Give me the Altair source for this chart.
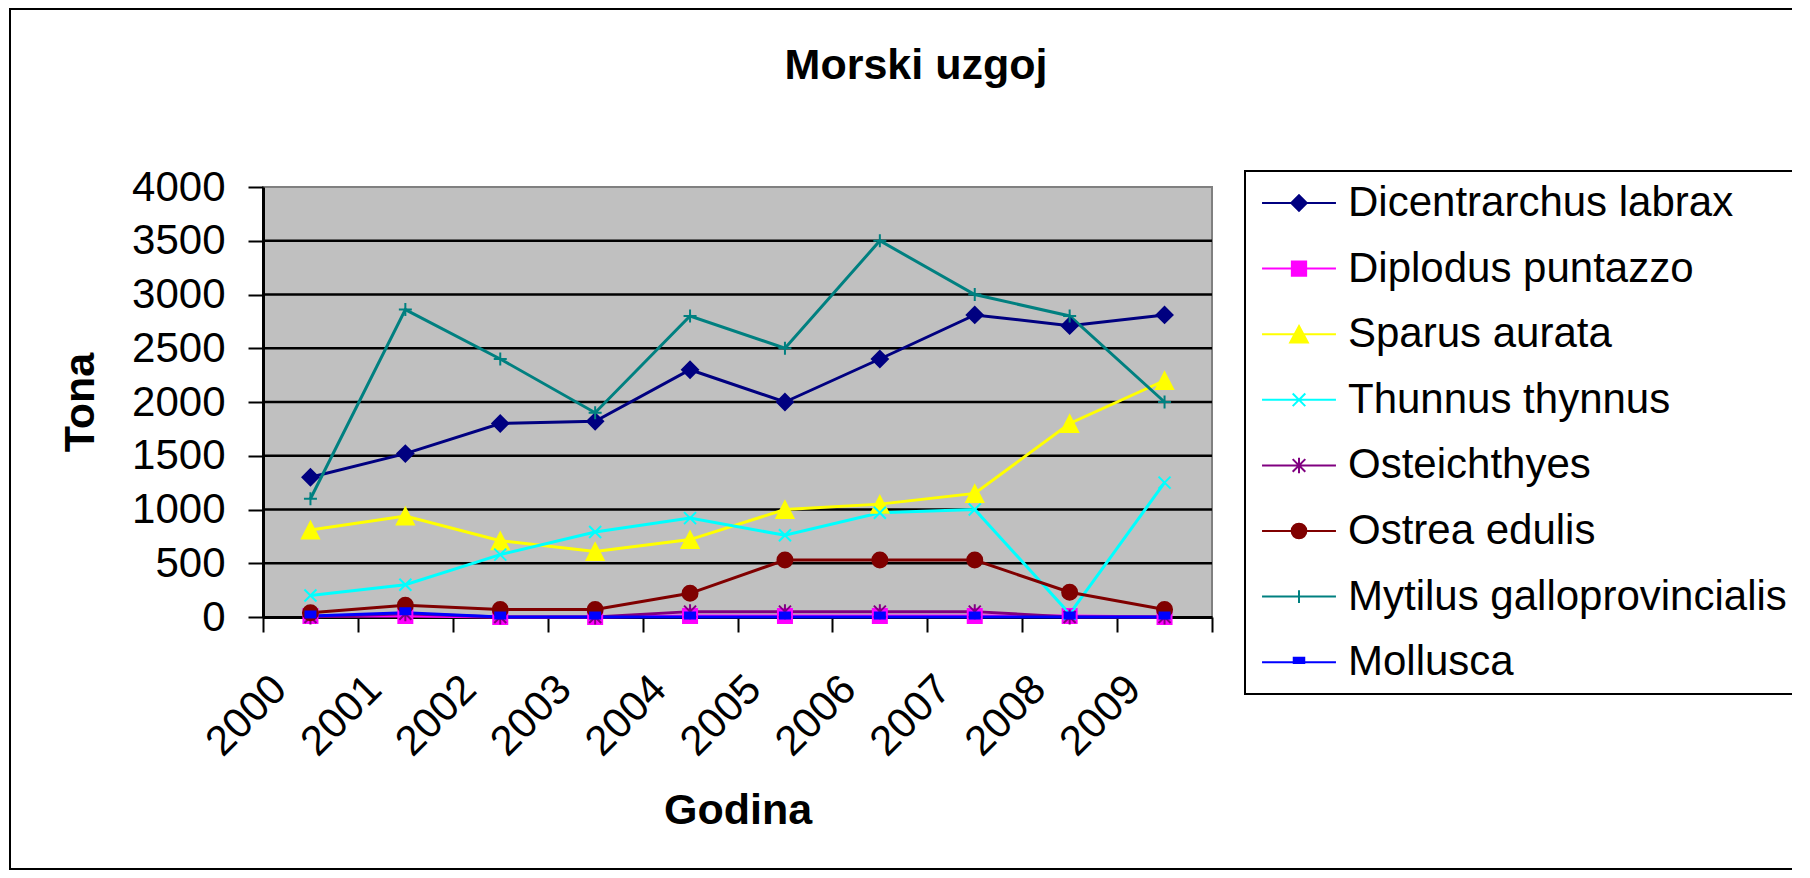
import altair as alt
import pandas as pd

# ---------------- data ----------------
years = [2000, 2001, 2002, 2003, 2004, 2005, 2006, 2007, 2008, 2009]
series_names = [
    "Dicentrarchus labrax",
    "Diplodus puntazzo",
    "Sparus aurata",
    "Thunnus thynnus",
    "Osteichthyes",
    "Ostrea edulis",
    "Mytilus galloprovincialis",
    "Mollusca",
]
dicentrarchus = [1300, 1520, 1800, 1820, 2300, 2000, 2400, 2810, 2710, 2810]
diplodus = [10, 10, 0, 0, 10, 10, 10, 10, 10, 0]
sparus = [810, 940, 710, 610, 720, 1000, 1050, 1150, 1800, 2200]
thunnus = [200, 300, 580, 790, 920, 760, 970, 1000, 30, 1250]
osteichthyes = [0, 30, 0, 0, 50, 50, 50, 50, 0, 0]
ostrea = [40, 110, 70, 70, 220, 530, 530, 530, 230, 70]
mytilus = [1100, 2860, 2400, 1900, 2800, 2500, 3500, 3000, 2800, 2000]
mollusca = [10, 40, 0, 0, 0, 0, 0, 0, 0, 0]
all_values = [dicentrarchus, diplodus, sparus, thunnus, osteichthyes, ostrea, mytilus, mollusca]

colors = ["#000080", "#FF00FF", "#FFFF00", "#00FFFF", "#800080", "#800000", "#008080", "#0000FF"]

marker_paths = [
    "M0,-0.8L0.8,0L0,0.8L-0.8,0Z",
    "M-0.7,-0.7L0.7,-0.7L0.7,0.7L-0.7,0.7Z",
    "M0,-0.8L0.85,0.85L-0.85,0.85Z",
    "M-0.6,-0.6L0.6,0.6M-0.6,0.6L0.6,-0.6",
    "M-0.6,-0.6L0.6,0.6M-0.6,0.6L0.6,-0.6M0,-0.75L0,0.75",
    "M-0.75,0A0.75,0.75,0,1,0,0.75,0A0.75,0.75,0,1,0,-0.75,0Z",
    "M-0.65,0L0.65,0M0,-0.65L0,0.65",
    "M-0.5,-0.45L0.5,-0.45L0.5,0.15L-0.5,0.15Z",
]
# legend symbols: a line through the marker (unit = 21 px)
legend_paths = [
    "M-1.76,0L1.76,0M0,-0.37L0.37,0L0,0.37L-0.37,0Z",
    "M-1.76,0L1.76,0M-0.34,-0.34L0.34,-0.34L0.34,0.34L-0.34,0.34Z",
    "M-1.76,0L1.76,0M0,-0.39L0.42,0.39L-0.42,0.39Z",
    "M-1.76,0L1.76,0M-0.3,-0.3L0.3,0.3M-0.3,0.3L0.3,-0.3",
    "M-1.76,0L1.76,0M-0.3,-0.3L0.3,0.3M-0.3,0.3L0.3,-0.3M0,-0.37L0,0.37",
    "M-1.76,0L1.76,0M-0.35,0A0.35,0.35,0,1,0,0.35,0A0.35,0.35,0,1,0,-0.35,0Z",
    "M-1.76,0L1.76,0M0,-0.3L0,0.3",
    "M-1.76,0L1.76,0M-0.25,-0.21L0.25,-0.21L0.25,0.035L-0.25,0.035Z",
]

y_ticks = [0, 500, 1000, 1500, 2000, 2500, 3000, 3500, 4000]
grid_values = [500, 1000, 1500, 2000, 2500, 3000, 3500]

rows = []
for name, vals in zip(series_names, all_values):
    for yr, v in zip(years, vals):
        rows.append({"year": yr, "value": v, "series": name, "legend": name})
df = pd.DataFrame(rows)

FONT = "Liberation Sans"
x_bounds = [y - 0.5 for y in years] + [years[-1] + 0.5]

xscale = alt.Scale(domain=[years[0] - 0.5, years[-1] + 0.5], nice=False, zero=False)
yscale = alt.Scale(domain=[0, 4000], nice=False)

xaxis = alt.Axis(
    values=x_bounds,
    labelExpr=f"datum.value > {years[-1]} ? '' : format(datum.value + 0.5, 'd')",
    labelAngle=315, labelAlign="right", labelBaseline="top",
    labelOffset=2, labelPadding=36,
    labelFont=FONT, labelFontSize=42, labelColor="black",
    labelFlush=False, labelOverlap=False,
    tickSize=15, tickWidth=2, tickColor="black",
    domainColor="black", domainWidth=3, grid=False,
    title="Godina", titleFont=FONT, titleFontSize=43, titleFontWeight="bold",
    titleColor="black", titleX=474.5, titleY=206, titleBaseline="alphabetic",
    titleAlign="center",
)
yaxis = alt.Axis(
    values=y_ticks, format="d",
    labelFont=FONT, labelFontSize=42, labelColor="black", labelPadding=23,
    labelFlush=False, labelOverlap=False,
    tickSize=15, tickWidth=2, tickColor="black",
    domainColor="black", domainWidth=3, grid=False,
    title="Tona", titleFont=FONT, titleFontSize=43, titleFontWeight="bold",
    titleColor="black", titleX=-170, titleY=215, titleBaseline="alphabetic",
    titleAngle=270, titleAlign="center",
)

X = alt.X("year:Q", scale=xscale, axis=xaxis)
Y = alt.Y("value:Q", scale=yscale, axis=yaxis)

color_scale = alt.Scale(domain=series_names, range=colors)

frame = alt.Chart(pd.DataFrame({"k": [0]})).mark_rect(
    fillOpacity=0, stroke="black", strokeWidth=2
).encode(
    x=alt.value(-253), x2=alt.value(1600), y=alt.value(-178), y2=alt.value(682)
)

grid = alt.Chart(pd.DataFrame({"value": grid_values})).mark_rule(
    color="black", strokeWidth=2.5
).encode(y=Y)

base = alt.Chart(df)

lines = base.mark_line(strokeWidth=3).encode(
    x=X, y=Y,
    stroke=alt.Stroke("series:N", scale=color_scale, legend=None),
)

points = base.mark_point(size=400, opacity=1, strokeWidth=2).encode(
    x=X, y=Y,
    fill=alt.Fill("series:N", scale=color_scale, legend=None),
    stroke=alt.Stroke("series:N", scale=color_scale, legend=None),
    shape=alt.Shape("series:N", scale=alt.Scale(domain=series_names, range=marker_paths), legend=None),
)

leg = alt.Legend(
    orient="none", legendX=982, legendY=-16, title=None,
    direction="vertical", columns=1,
    labelFont=FONT, labelFontSize=42, labelColor="black", labelLimit=2000,
    labelOffset=27, symbolOffset=22,
    symbolSize=1764, symbolStrokeWidth=2, symbolOpacity=1,
    padding=10, rowPadding=22.6,
    strokeColor="black", fillColor="white",
)

legend_layer = base.mark_point(size=1764, opacity=0, strokeWidth=2).encode(
    x=X, y=Y,
    fill=alt.Fill("legend:N", scale=alt.Scale(domain=series_names, range=colors), legend=leg),
    stroke=alt.Stroke("legend:N", scale=alt.Scale(domain=series_names, range=colors), legend=leg),
    shape=alt.Shape("legend:N", scale=alt.Scale(domain=series_names, range=legend_paths), legend=leg),
)

chart = alt.layer(frame, grid, lines, points, legend_layer).resolve_scale(
    fill="independent", stroke="independent", shape="independent"
).properties(
    width=949, height=430,
    padding={"left": 255, "top": 179, "right": 580, "bottom": 253},
    autosize=alt.AutoSizeParams(type="none"),
    background="white",
    title=alt.TitleParams(
        text="Morski uzgoj", font=FONT, fontSize=43, fontWeight="bold", color="black",
        anchor="middle", frame="group", offset=0, dx=178.5, dy=114, baseline="alphabetic",
    ),
).configure_view(fill="#C0C0C0", stroke="#808080", strokeWidth=2
).configure_legend(strokeWidth=2)

chart.save("out.html", embed_options={"renderer": "svg", "actions": False})
